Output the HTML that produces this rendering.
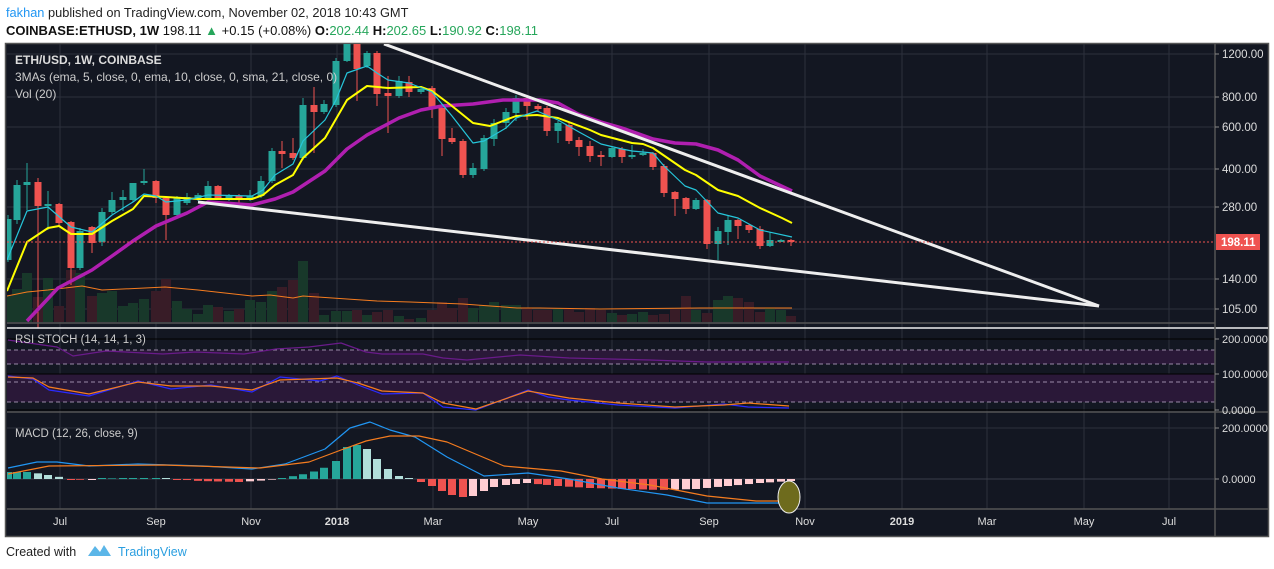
<!DOCTYPE html>
<html><head><meta charset="utf-8"><style>
html,body{margin:0;padding:0;background:#fff;width:1274px;height:569px;overflow:hidden;font-family:"Liberation Sans",sans-serif}
svg{position:absolute;left:0;top:0}
</style></head><body>
<svg id="s" width="1274" height="569" xmlns="http://www.w3.org/2000/svg" font-family="Liberation Sans, sans-serif">
<defs><clipPath id="cp"><rect x="7" y="44" width="1208" height="465"/></clipPath></defs>
<text x="6" y="17" font-size="12.8"><tspan fill="#2196f3">fakhan</tspan><tspan fill="#222"> published on TradingView.com, November 02, 2018 10:43 GMT</tspan></text>
<text x="6" y="35" font-size="13" fill="#111"><tspan font-weight="bold">COINBASE:ETHUSD, 1W</tspan> 198.11 <tspan fill="#26a65b">▲</tspan> +0.15 (+0.08%) <tspan font-weight="bold">O:</tspan><tspan fill="#26a65b">202.44</tspan> <tspan font-weight="bold">H:</tspan><tspan fill="#26a65b">202.65</tspan> <tspan font-weight="bold">L:</tspan><tspan fill="#26a65b">190.92</tspan> <tspan font-weight="bold">C:</tspan><tspan fill="#26a65b">198.11</tspan></text>
<rect x="5.5" y="43.5" width="1263" height="493" fill="#131722" stroke="#555" stroke-width="1.5"/>
<g stroke="#2d313c" stroke-width="1" id="grid"></g>
<g id="bands"></g>
<g id="main" clip-path="url(#cp)">
<g id="vol"></g>
<g id="hist"></g>
<g id="candles"></g>
</g>
</svg>
<script>
var S=document.getElementById('s'),NS='http://www.w3.org/2000/svg',M=document.getElementById('main');
function el(t,a,p){var e=document.createElementNS(NS,t);for(var k in a)e.setAttribute(k,a[k]);(p||S).appendChild(e);return e;}
function txt(x,y,s,a){var e=el('text',Object.assign({x:x,y:y},a||{}));e.textContent=s;return e;}
var G=document.getElementById('grid');
[60,156,251,337,433,528,612,709,805,902,987,1084,1169].forEach(function(x){el('line',{x1:x,y1:44,x2:x,y2:509},G);});
[54,97,127,169,207,279,309].forEach(function(y){el('line',{x1:7,y1:y,x2:1215,y2:y},G);});
el('line',{x1:7,y1:428,x2:1215,y2:428},G);el('line',{x1:7,y1:479,x2:1215,y2:479,stroke:'#3a3e49'},G);
el('line',{x1:7,y1:323,x2:1215,y2:323,stroke:'#555','stroke-width':1.5});
el('line',{x1:7,y1:328,x2:1268,y2:328,stroke:'#eee','stroke-width':1.5});
el('line',{x1:7,y1:412,x2:1268,y2:412,stroke:'#555','stroke-width':1.5});
el('line',{x1:7,y1:509,x2:1268,y2:509,stroke:'#555','stroke-width':1.5});
el('line',{x1:1215,y1:44,x2:1215,y2:536,stroke:'#555','stroke-width':1.5});
var B=document.getElementById('bands');
el('rect',{x:7,y:350,width:1208,height:14,fill:'#2a1838'},B);
el('rect',{x:7,y:374,width:1208,height:28,fill:'#2a1838'},B);
[339,374,410].forEach(function(y){el('line',{x1:7,y1:y,x2:1215,y2:y,stroke:'#000','stroke-width':1},B);});
[350,364,382,402].forEach(function(y){el('line',{x1:7,y1:y,x2:1215,y2:y,stroke:'#9a8aa8','stroke-width':1,'stroke-dasharray':'4,3'},B);});
var C=[[8,260,219,262,215],[17,220,185,224,180],[27,185,182,210,163],[38,182,206,178,328],[48,206,204,230,191],[59,204,223,203,226],[71,222,268,221,285],[80,268,231,270,228],[92,227,243,226,253],[102,242,212,246,208],[112,212,200,214,192],[123,200,197,211,190],[133,200,183,202,183],[144,183,181,185,169],[156,181,198,180,203],[166,198,215,196,240],[177,215,198,217,196],[187,203,197,205,193],[198,198,195,201,193],[208,198,186,200,181],[218,186,198,185,200],[229,199,196,201,194],[239,196,199,194,203],[250,199,196,201,190],[261,196,181,198,176],[272,181,151,183,148],[282,151,154,141,168],[293,153,158,138,160],[303,158,105,160,98],[314,105,112,87,153],[324,112,104,114,100],[336,105,61,107,58],[347,61,43,62,41],[357,43,69,41,101],[367,66,53,68,51],[377,53,94,51,106],[388,93,96,76,133],[399,96,81,98,76],[409,82,92,76,97],[421,92,89,94,87],[432,88,108,86,118],[442,108,139,106,156],[452,138,142,128,144],[463,141,175,139,178],[473,175,168,178,163],[484,169,138,171,135],[494,139,123,146,119],[506,123,112,129,108],[516,113,98,121,95],[527,98,106,96,120],[538,106,109,104,112],[547,108,131,106,136],[558,131,123,143,121],[569,125,141,123,144],[579,140,147,137,156],[590,146,156,141,162],[601,155,157,151,166],[612,157,148,158,146],[622,149,157,147,163],[632,157,155,159,145],[643,155,153,156,149],[653,153,167,152,170],[664,166,193,164,197],[675,192,199,191,216],[686,198,209,197,214],[696,209,200,210,198],[707,200,244,199,249],[718,244,231,260,227],[728,232,220,245,215],[738,220,226,219,239],[749,225,230,224,233],[760,229,246,226,249],[770,246,240,247,232],[781,241,240,242,239],[791,240,242,239,246]];
var vt=[296,289,273,297,278,306,270,273,296,293,291,306,303,299,291,279,301,309,314,305,307,311,309,300,302,291,287,280,261,293,315,311,311,310,315,312,310,316,319,318,310,302,308,298,308,305,302,305,305,308,310,310,309,309,312,308,310,313,315,314,312,315,314,309,296,310,313,300,296,298,302,312,308,310,316,317];
var V=document.getElementById('vol'),K=document.getElementById('candles');
C.forEach(function(c,i){var up=c[2]<c[1];var col=up?'#26a69a':'#ef5350';
 var t=vt[i]||310;
 el('rect',{x:c[0]-5,y:t,width:10,height:322-t,fill:up?'#18382a':'#381c27'},V);
 var hi=Math.min(c[3],c[4],c[1],c[2]),lo=Math.max(c[3],c[4],c[1],c[2]);
 el('line',{x1:c[0],y1:hi,x2:c[0],y2:lo,stroke:col,'stroke-width':1},K);
 var y=Math.min(c[1],c[2]),h=Math.max(2,Math.abs(c[1]-c[2]));
 el('rect',{x:c[0]-3.5,y:y,width:7,height:h,fill:col},K);});
var hk=[[8,7],[30,7],[60,2],[75,-1],[120,1],[160,1],[200,-2],[240,-3],[270,-1],[300,4],[320,9],[336,18],[347,32],[357,34],[367,30],[377,20],[388,10],[399,3],[409,0],[421,-3],[432,-7],[442,-12],[452,-16],[463,-18],[473,-17],[484,-12],[494,-8],[506,-6],[516,-5],[527,-4],[537,-5],[558,-7],[590,-9],[630,-10],[660,-11],[696,-10],[728,-7],[760,-4],[791,-2]];
function hv(x){for(var i=0;i<hk.length-1;i++){if(x>=hk[i][0]&&x<=hk[i+1][0]){var t=(x-hk[i][0])/(hk[i+1][0]-hk[i][0]);return hk[i][1]+t*(hk[i+1][1]-hk[i][1]);}}return hk[hk.length-1][1];}
var H=document.getElementById('hist'),prev=0;
C.forEach(function(c,i){var v=hv(c[0]);var col=v>=0?(v>=prev?'#26a69a':'#b2dfdb'):(v<=prev?'#ef5350':'#ffcdd2');prev=v;
 if(Math.abs(v)<0.6)v=v<0?-1:1;
 el('rect',{x:c[0]-4,y:v>0?479-v:479,width:8,height:Math.abs(v),fill:col},H);});
function pl(pts,col,w,p){el('polyline',{points:pts,fill:'none',stroke:col,'stroke-width':w,'stroke-linejoin':'round'},p||M);}
pl('7,296 27,292 48,290 82,286 102,290 145,288 165,287 198,290 252,296 270,295 293,298 303,296 347,299 377,301 410,302 463,304 517,308 540,308 600,309 700,308 792,308','#f57c1f',1);
pl('27,321 58,288 92,270 112,256 133,241 156,226 187,213 208,202 252,205 275,199 293,192 325,171 347,149 367,135 399,118 421,110 442,106 473,104 503,100 527,100 540,100 558,103 578,114 601,122 622,128 653,139 675,143 696,144 718,150 738,160 760,176 792,191','#b01fb0',3.5);
pl('7,291 27,242 48,228 59,226 71,234 92,234 112,221 133,209 144,196 166,197 198,199 252,199 263,195 275,185 293,175 303,158 325,138 347,100 367,86 388,88 421,87 432,91 452,106 473,123 490,126 516,116 537,115 558,118 590,130 601,135 632,143 643,144 653,148 685,170 696,175 718,190 738,196 760,208 782,218 792,223','#ffff00',2);
pl('7,260 27,211 48,207 71,227 92,232 112,215 133,202 144,194 156,196 166,202 187,200 208,195 252,196 263,190 275,175 293,164 303,141 325,120 336,100 347,73 367,66 377,73 388,80 409,83 432,92 452,116 473,143 484,141 506,128 516,118 537,111 558,120 579,132 601,144 622,149 632,151 653,153 664,166 685,186 696,190 718,213 738,218 760,230 792,237','#26c6da',1.2);
el('line',{x1:384,y1:44,x2:1099,y2:306,stroke:'#eee','stroke-width':3},M);
el('line',{x1:198,y1:202,x2:1099,y2:306,stroke:'#eee','stroke-width':3},M);
el('line',{x1:7,y1:242,x2:1215,y2:242,stroke:'#ef5350','stroke-width':1,'stroke-dasharray':'2,2'},M);
pl('8,340 57,347 73,356 106,351 163,354 195,352 244,354 276,349 309,347 341,343 366,352 382,354 423,354 443,358 467,360 520,355 569,358 650,360 707,362 789,362','#6a1b8a',1.2);
pl('8,376 33,379 49,390 89,396 138,381 171,389 211,385 252,392 280,377 320,381 337,376 358,385 382,394 423,393 443,407 476,410 528,390 548,397 569,400 618,405 675,408 724,404 748,407 789,408','#2b2bff',1.2);
pl('8,377 33,378 49,387 89,394 138,382 171,386 211,386 252,390 280,380 337,378 358,383 382,391 423,393 443,403 476,409 528,391 569,398 618,403 675,407 724,405 748,403 789,406','#f57c1f',1.2);
pl('8,468 37,462 57,462 89,466 138,464 203,466 252,469 285,464 325,449 350,428 370,422 390,430 415,437 447,457 484,476 528,473 569,479 618,488 667,495 707,503 789,503','#2196f3',1.2);
pl('8,474 49,466 163,465 260,468 309,462 341,450 366,441 390,436 419,436 447,442 504,466 561,471 602,479 650,485 707,496 756,501 789,501','#f57c1f',1.2);
el('ellipse',{cx:789,cy:497,rx:11,ry:16,fill:'#6e6b1d',stroke:'#eee','stroke-width':1});
txt(15,64,'ETH/USD, 1W, COINBASE',{fill:'#ddd','font-size':12,'font-weight':'bold'});
txt(15,81,'3MAs (ema, 5, close, 0, ema, 10, close, 0, sma, 21, close, 0)',{fill:'#ccc','font-size':12});
txt(15,98,'Vol (20)',{fill:'#ccc','font-size':12});
txt(15,343,'RSI STOCH (14, 14, 1, 3)',{fill:'#ccc','font-size':11.5});
txt(15,437,'MACD (12, 26, close, 9)',{fill:'#ccc','font-size':11.5});
[[54,'1200.00'],[97,'800.00'],[127,'600.00'],[169,'400.00'],[207,'280.00'],[279,'140.00'],[309,'105.00']].forEach(function(a){el('line',{x1:1215,y1:a[0],x2:1219,y2:a[0],stroke:'#888'});txt(1222,a[0]+4,a[1],{fill:'#ddd','font-size':11.5});});
[[339,'200.0000'],[374,'100.0000'],[410,'0.0000'],[428,'200.0000'],[479,'0.0000']].forEach(function(a){el('line',{x1:1215,y1:a[0],x2:1219,y2:a[0],stroke:'#888'});txt(1222,a[0]+4,a[1],{fill:'#ddd','font-size':11});});
el('rect',{x:1216,y:234,width:44,height:16,fill:'#ef5350'});
txt(1221,246,'198.11',{fill:'#fff','font-size':11.5,'font-weight':'bold'});
[[60,'Jul'],[156,'Sep'],[251,'Nov'],[337,'2018',1],[433,'Mar'],[528,'May'],[612,'Jul'],[709,'Sep'],[805,'Nov'],[902,'2019',1],[987,'Mar'],[1084,'May'],[1169,'Jul']].forEach(function(a){txt(a[0],525,a[1],{fill:'#ddd','font-size':11,'text-anchor':'middle','font-weight':a[2]?'bold':'normal'});});
txt(6,556,'Created with',{fill:'#222','font-size':12.5});
el('path',{d:'M88,556 L95,546 L100,552 L104,545 L111,556 Z',fill:'#5bb6e8'});
txt(118,556,'TradingView',{fill:'#2b9fe0','font-size':12.5});
</script>
</body></html>
